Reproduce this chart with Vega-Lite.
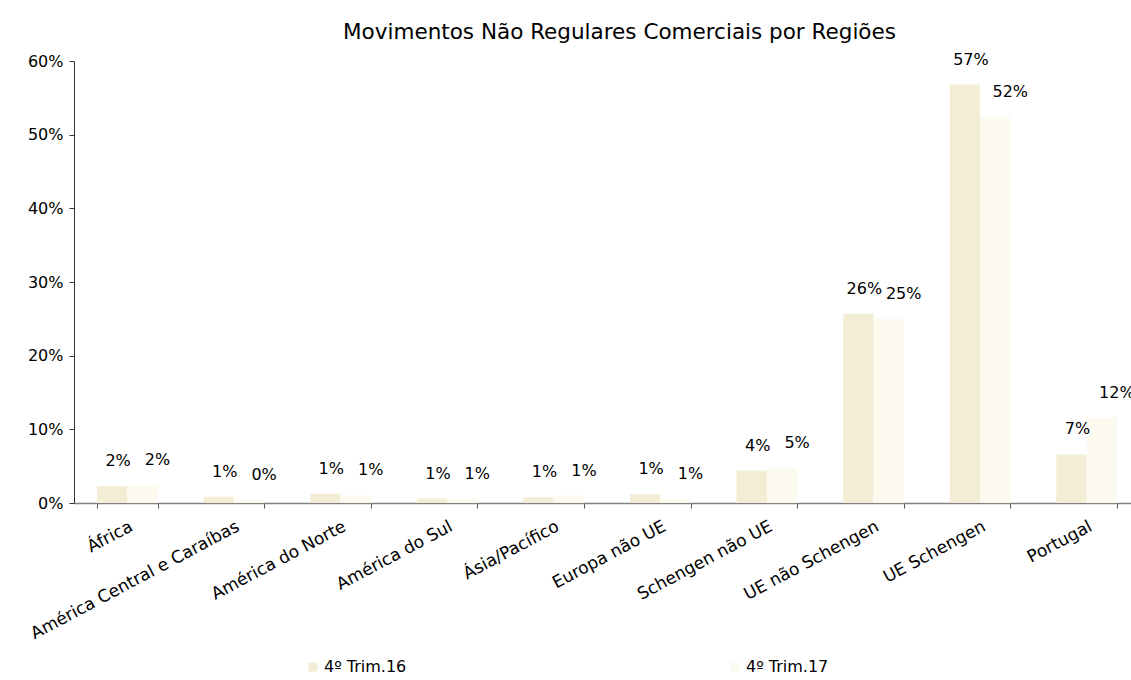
{
  "$schema": "https://vega.github.io/schema/vega-lite/v6.json",
  "width": 1057,
  "height": 442,
  "autosize": {"type": "none"},
  "padding": {"left": 74, "top": 61, "right": 0, "bottom": 177},
  "background": "white",
  "config": {
    "font": "DejaVu Sans",
    "view": {"stroke": null},
    "axis": {"labelFont": "DejaVu Sans", "labelFontSize": 16, "labelColor": "black", "grid": false, "titleFontSize": 16}
  },
  "title": {
    "text": "Movimentos Não Regulares Comerciais por Regiões",
    "fontSize": 21.5,
    "fontWeight": "normal",
    "color": "black",
    "font": "DejaVu Sans",
    "anchor": "middle",
    "dx": 17,
    "offset": 8
  },
  "data": {
    "values": [
      {"regiao": "África", "serie": "4º Trim.16", "valor": 0.023},
      {"regiao": "África", "serie": "4º Trim.17", "valor": 0.024},
      {"regiao": "América Central e Caraíbas", "serie": "4º Trim.16", "valor": 0.0086},
      {"regiao": "América Central e Caraíbas", "serie": "4º Trim.17", "valor": 0.0045},
      {"regiao": "América do Norte", "serie": "4º Trim.16", "valor": 0.0126},
      {"regiao": "América do Norte", "serie": "4º Trim.17", "valor": 0.0104},
      {"regiao": "América do Sul", "serie": "4º Trim.16", "valor": 0.006},
      {"regiao": "América do Sul", "serie": "4º Trim.17", "valor": 0.0055},
      {"regiao": "Ásia/Pacífico", "serie": "4º Trim.16", "valor": 0.0075},
      {"regiao": "Ásia/Pacífico", "serie": "4º Trim.17", "valor": 0.010},
      {"regiao": "Europa não UE", "serie": "4º Trim.16", "valor": 0.012},
      {"regiao": "Europa não UE", "serie": "4º Trim.17", "valor": 0.0055},
      {"regiao": "Schengen não UE", "serie": "4º Trim.16", "valor": 0.044},
      {"regiao": "Schengen não UE", "serie": "4º Trim.17", "valor": 0.0475},
      {"regiao": "UE não Schengen", "serie": "4º Trim.16", "valor": 0.257},
      {"regiao": "UE não Schengen", "serie": "4º Trim.17", "valor": 0.250},
      {"regiao": "UE Schengen", "serie": "4º Trim.16", "valor": 0.568},
      {"regiao": "UE Schengen", "serie": "4º Trim.17", "valor": 0.524},
      {"regiao": "Portugal", "serie": "4º Trim.16", "valor": 0.066},
      {"regiao": "Portugal", "serie": "4º Trim.17", "valor": 0.116}
    ]
  },
  "encoding": {
    "x": {
      "field": "regiao",
      "type": "nominal",
      "sort": null,
      "title": null,
      "scale": {"paddingInner": 0.43, "paddingOuter": 0.215, "range": [0, 1066]},
      "axis": {
        "labelAngle": -28,
        "labelAlign": "right",
        "labelBaseline": "top",
        "labelPadding": 10,
        "labelFontSize": 17,
        "tickBand": "extent",
        "tickSize": 5,
        "tickColor": "#555555",
        "domainColor": "#808080",
        "domainWidth": 1.5,
        "labelLimit": 400
      }
    },
    "xOffset": {"field": "serie", "type": "nominal", "scale": {"paddingInner": 0, "paddingOuter": 0}},
    "y": {
      "field": "valor",
      "type": "quantitative",
      "title": null,
      "scale": {"domain": [0, 0.6], "nice": false},
      "axis": {
        "format": ".0%",
        "values": [0, 0.1, 0.2, 0.3, 0.4, 0.5, 0.6],
        "tickSize": 5,
        "tickColor": "#333333",
        "domainColor": "#333333",
        "labelPadding": 6
      }
    }
  },
  "layer": [
    {
      "mark": {"type": "bar"},
      "encoding": {
        "color": {
          "field": "serie",
          "type": "nominal",
          "scale": {"domain": ["4º Trim.16", "4º Trim.17"], "range": ["#F4EDD5", "#FCF9EF"]},
          "legend": {
            "title": null,
            "orient": "none",
            "direction": "horizontal",
            "legendX": 231,
            "legendY": 598,
            "symbolType": "square",
            "symbolSize": 81,
            "symbolStrokeWidth": 0,
            "labelFontSize": 16,
            "labelFont": "DejaVu Sans",
            "labelColor": "black",
            "labelOffset": 3,
            "columnPadding": 320
          }
        }
      }
    },
    {
      "transform": [{"filter": "datum.serie == '4º Trim.16'"}],
      "mark": {"type": "text", "baseline": "middle", "align": "center", "dy": -25, "dx": 6, "fontSize": 16, "color": "black"},
      "encoding": {"text": {"field": "valor", "type": "quantitative", "format": ".0%"}}
    },
    {
      "transform": [{"filter": "datum.serie == '4º Trim.17'"}],
      "mark": {"type": "text", "baseline": "middle", "align": "center", "dy": -25, "dx": 15, "fontSize": 16, "color": "black"},
      "encoding": {"text": {"field": "valor", "type": "quantitative", "format": ".0%"}}
    }
  ]
}
